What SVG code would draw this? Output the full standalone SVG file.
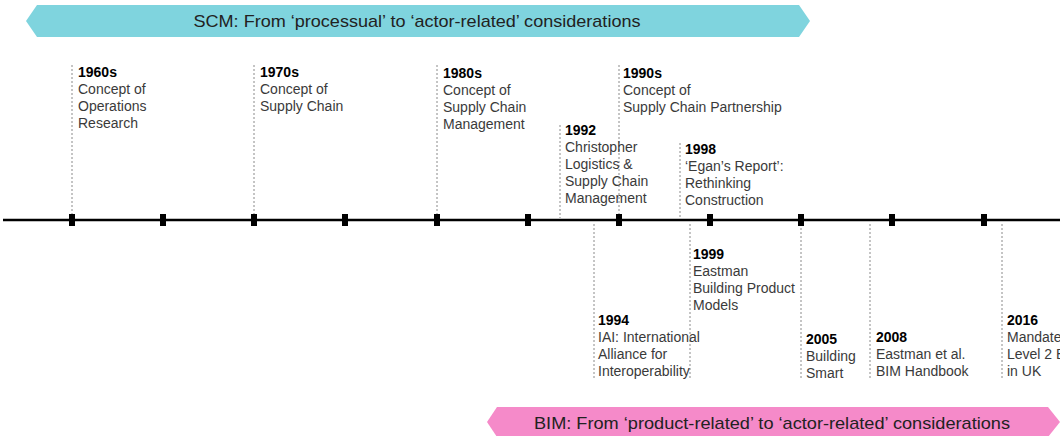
<svg xmlns="http://www.w3.org/2000/svg" width="1060" height="436" viewBox="0 0 1060 436">
<style>
.yr{font-family:"Liberation Sans",Arial,sans-serif;font-size:14px;font-weight:bold;fill:#000}
.ds{font-family:"Liberation Sans",Arial,sans-serif;font-size:14px;fill:#3a3a3a}
.bn{font-family:"Liberation Sans",Arial,sans-serif;font-size:17px;fill:#222}
.dash{stroke:#8a8a8a;stroke-width:1;stroke-dasharray:2,2;fill:none}
.tick{fill:#000}
</style>
<rect width="1060" height="436" fill="#fff"/>
<g id="banner-scm">
<polygon points="26,21 37,5 799,5 810,21 799,37 37,37" fill="#7fd4de"/>
<text class="bn" x="417" y="27" text-anchor="middle" textLength="447" lengthAdjust="spacingAndGlyphs">SCM: From ‘processual’ to ‘actor-related’ considerations</text>
</g>
<g id="banner-bim">
<polygon points="487,422 497,407 1048,407 1060,422 1048,437 497,437" fill="#f58ac9"/>
<text class="bn" x="772" y="429" text-anchor="middle" textLength="476" lengthAdjust="spacingAndGlyphs">BIM: From ‘product-related’ to ‘actor-related’ considerations</text>
</g>
<g id="connectors">
<line class="dash" x1="72" y1="65" x2="72" y2="215"/>
<line class="dash" x1="254" y1="65" x2="254" y2="215"/>
<line class="dash" x1="437" y1="65" x2="437" y2="215"/>
<line class="dash" x1="619" y1="65" x2="619" y2="215"/>
<line class="dash" x1="560" y1="125" x2="560" y2="218"/>
<line class="dash" x1="680" y1="143" x2="680" y2="218"/>
<line class="dash" x1="594" y1="224" x2="594" y2="378"/>
<line class="dash" x1="690" y1="224" x2="690" y2="378"/>
<line class="dash" x1="801" y1="224" x2="801" y2="380"/>
<line class="dash" x1="870" y1="224" x2="870" y2="378"/>
<line class="dash" x1="1002" y1="224" x2="1002" y2="378"/>
</g>
<g id="timeline">
<line x1="3" y1="220" x2="1060" y2="220" stroke="#000" stroke-width="2.5"/>
<rect class="tick" x="69" y="214" width="6" height="12"/>
<rect class="tick" x="160" y="214" width="6" height="12"/>
<rect class="tick" x="251" y="214" width="6" height="12"/>
<rect class="tick" x="342" y="214" width="6" height="12"/>
<rect class="tick" x="434" y="214" width="6" height="12"/>
<rect class="tick" x="525" y="214" width="6" height="12"/>
<rect class="tick" x="616" y="214" width="6" height="12"/>
<rect class="tick" x="707" y="214" width="6" height="12"/>
<rect class="tick" x="798" y="214" width="6" height="12"/>
<rect class="tick" x="889" y="214" width="6" height="12"/>
<rect class="tick" x="981" y="214" width="6" height="12"/>
</g>
<g id="n1960s">
<text class="yr" x="78" y="77">1960s</text>
<text class="ds" x="78" y="94">Concept of</text>
<text class="ds" x="78" y="111">Operations</text>
<text class="ds" x="78" y="128">Research</text>
</g>
<g id="n1970s">
<text class="yr" x="260" y="77">1970s</text>
<text class="ds" x="260" y="94">Concept of</text>
<text class="ds" x="260" y="111">Supply Chain</text>
</g>
<g id="n1980s">
<text class="yr" x="443" y="78">1980s</text>
<text class="ds" x="443" y="95">Concept of</text>
<text class="ds" x="443" y="112">Supply Chain</text>
<text class="ds" x="443" y="129">Management</text>
</g>
<g id="n1990s">
<text class="yr" x="623" y="78">1990s</text>
<text class="ds" x="623" y="95">Concept of</text>
<text class="ds" x="623" y="112">Supply Chain Partnership</text>
</g>
<g id="n1992">
<text class="yr" x="565" y="135">1992</text>
<text class="ds" x="565" y="152">Christopher</text>
<text class="ds" x="565" y="169">Logistics &amp;</text>
<text class="ds" x="565" y="186">Supply Chain</text>
<text class="ds" x="565" y="203">Management</text>
</g>
<g id="n1998">
<text class="yr" x="685" y="154">1998</text>
<text class="ds" x="685" y="171">‘Egan’s Report’:</text>
<text class="ds" x="685" y="188">Rethinking</text>
<text class="ds" x="685" y="205">Construction</text>
</g>
<g id="n1994">
<text class="yr" x="598" y="325">1994</text>
<text class="ds" x="598" y="342">IAI: International</text>
<text class="ds" x="598" y="359">Alliance for</text>
<text class="ds" x="598" y="376">Interoperability</text>
</g>
<g id="n1999">
<text class="yr" x="693" y="259">1999</text>
<text class="ds" x="693" y="276">Eastman</text>
<text class="ds" x="693" y="293">Building Product</text>
<text class="ds" x="693" y="310">Models</text>
</g>
<g id="n2005">
<text class="yr" x="806" y="344">2005</text>
<text class="ds" x="806" y="361">Building</text>
<text class="ds" x="806" y="378">Smart</text>
</g>
<g id="n2008">
<text class="yr" x="876" y="342">2008</text>
<text class="ds" x="876" y="359">Eastman et al.</text>
<text class="ds" x="876" y="376">BIM Handbook</text>
</g>
<g id="n2016">
<text class="yr" x="1007" y="325">2016</text>
<text class="ds" x="1007" y="342">Mandated</text>
<text class="ds" x="1007" y="359">Level 2 BIM</text>
<text class="ds" x="1007" y="376">in UK</text>
</g>
</svg>
